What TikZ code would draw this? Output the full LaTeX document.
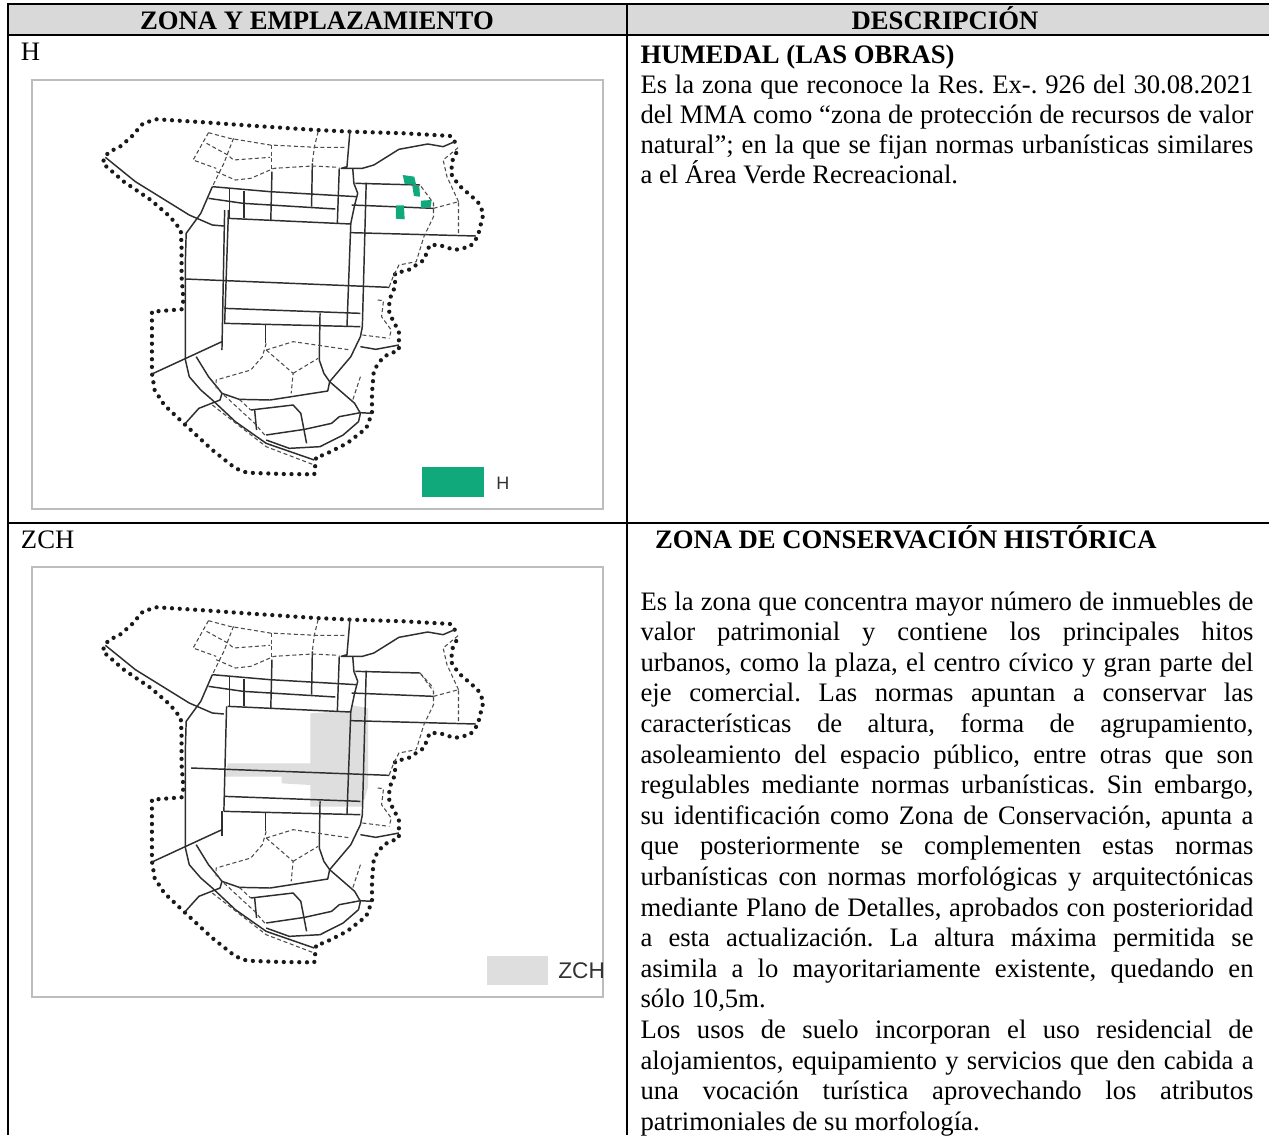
\documentclass[tikz,border=0pt]{standalone}
\usepackage{fontspec}
\setmainfont{Liberation Serif}
\newfontfamily\legendfont{Liberation Sans}
\definecolor{hdr}{HTML}{D9D9D9}
\definecolor{frm}{HTML}{BDBDBD}
\definecolor{grn}{HTML}{0FA97C}
\definecolor{zch}{HTML}{DEDEDE}
\definecolor{road}{HTML}{2E2E2E}
\newlength{\colW}\setlength{\colW}{459.75pt}
\frenchspacing
\tikzset{
  rule/.style={line width=1.5pt,black},
  mapframe/.style={draw=frm,line width=2pt},
  txt/.style={anchor=base west,inner sep=0pt,outer sep=0pt,font=\fontsize{20pt}{23pt}\selectfont\frenchspacing},
  boldtxt/.style={txt,font=\fontsize{20pt}{23pt}\selectfont\bfseries},
  headtxt/.style={anchor=base,inner sep=0pt,outer sep=0pt,font=\fontsize{20pt}{23pt}\selectfont\bfseries},
  roadline/.style={draw=road,line width=1.1pt,line join=round},
  lane/.style={draw=road!85,line width=0.8pt,dash pattern=on 3pt off 2pt},
  limit/.style={draw=black!90,line width=3.2pt,line cap=round,dash pattern=on 0pt off 5.8pt},
  maparea/.style={x=0.2885pt,y=-0.25pt},
}
\newcommand{\jl}[1]{\makebox[\colW][s]{#1}}
\newcommand{\zonemapcommon}{%
  % outer limit
  \draw[limit] (1130,245)--(1120,228)--(1000,220)--(860,215)--(770,210)--(600,197)--(480,187)--(385,180)--(355,178)--(320,190)--(290,230)--(258,262)--(232,275)--(220,292)--(215,310)--(270,365)--(340,420)--(390,470)--(418,510)--(420,560)--(420,650)--(425,720)--(420,748)--(343,755)--(343,850)--(343,940)--(350,990)--(375,1035)--(430,1095)--(500,1170)--(560,1225)--(590,1238)--(680,1242)--(765,1243)--(770,1190)--(790,1185)--(850,1150)--(900,1105)--(915,1060)--(915,1000)--(920,930)--(945,890)--(985,870)--(985,815)--(960,760)--(960,720)--(975,680)--(975,640)--(1010,630)--(1050,600)--(1065,555)--(1090,555)--(1130,570)--(1170,560)--(1190,530)--(1205,460)--(1190,425)--(1140,375)--(1120,340)--(1125,300)--(1140,265);
  % solid roads
  \draw[roadline] (222,292)--(300,365)--(440,465)--(500,495)--(530,498);
  \draw[roadline] (500,380)--(470,460)--(432,520)--(430,600)--(430,900)--(440,950)--(470,990)--(500,1020)--(560,1085)--(640,1150)--(765,1200);
  \draw[roadline] (500,380)--(650,395)--(875,410);
  \draw[roadline] (490,415)--(580,430)--(820,447);
  \draw[roadline] (862,435)--(1075,445);
  \draw[roadline] (860,518)--(1185,528);
  \draw[roadline] (545,385)--(545,475);
  \draw[roadline] (582,392)--(582,475);
  \draw[roadline] (655,335)--(652,480);
  \draw[roadline] (760,310)--(758,440);
  \draw[roadline] (830,325)--(825,490);
  \draw[roadline] (858,210)--(850,320)--(835,325)--(890,325)--(920,315)--(985,268)--(1060,252)--(1100,260)--(1130,245);
  \draw[roadline] (865,325)--(868,370)--(878,400)--(870,435)--(860,490)--(850,800);
  \draw[roadline] (900,368)--(890,800)--(885,830)--(860,890)--(805,965);
  \draw[roadline] (872,370)--(1040,375);
  \draw[roadline] (540,475)--(860,492);
  \draw[roadline] (530,745)--(885,760);
  \draw[roadline] (530,790)--(885,800);
  \draw[roadline] (780,760)--(778,900)--(790,940)--(805,965)--(870,1030)--(885,1060)--(880,1085)--(840,1125)--(780,1160)--(700,1165)--(640,1140);
  \draw[roadline] (638,795)--(638,850);
  \draw[roadline] (343,942)--(525,845);
  \draw[roadline] (458,890)--(490,950)--(515,985)--(525,1000);
  \draw[roadline] (525,1000)--(570,1018)--(650,1020)--(800,993)--(805,965);
  \draw[roadline] (430,1090)--(465,1045)--(520,1020)--(525,1000);
  \draw[roadline] (600,1050)--(710,1035)--(730,1060)--(745,1150);
  \draw[roadline] (610,1050)--(615,1110);
  \draw[roadline] (640,1125)--(740,1108)--(810,1090)--(830,1070)--(885,1058)--(915,1060);
  \draw[roadline] (885,860)--(925,868)--(985,855);
  % dashed lanes
  \draw[lane] (490,218)--(545,235)--(650,255)--(770,262)--(850,262);
  \draw[lane] (490,218)--(450,300)--(510,325);
  \draw[lane] (485,250)--(540,285)--(555,300)--(650,292);
  \draw[lane] (555,235)--(530,310)--(500,380);
  \draw[lane] (655,255)--(655,335);
  \draw[lane] (775,215)--(765,262)--(760,310);
  \draw[lane] (510,335)--(560,360)--(600,355)--(660,325)--(760,318)--(830,322);
  \draw[lane] (640,850)--(630,890)--(600,930)--(510,960)--(510,985);
  \draw[lane] (640,870)--(710,940)--(705,1000);
  \draw[lane] (640,870)--(710,845)--(860,870);
  \draw[lane] (710,940)--(775,895);
  \draw[lane] (885,950)--(865,1020);
  \draw[lane] (890,825)--(960,835);
  \draw[lane] (930,720)--(945,722)--(940,770)--(965,810)--(960,835);
  \draw[lane] (960,680)--(970,650)--(985,615)--(1030,605)--(1050,530)--(1075,470)--(1075,430)--(1040,375);
  \draw[lane] (1075,445)--(1140,425)--(1140,520);
  \draw[lane] (1140,425)--(1110,350)--(1100,300)--(1140,262);
  \draw[lane] (530,1005)--(610,1090)--(640,1130);
  \draw[lane] (500,1035)--(640,1160)--(765,1215);
  \draw[lane] (570,1018)--(600,1050);
}
\begin{document}
\begin{tikzpicture}[x=0.75pt,y=-0.75pt]
\useasboundingbox (0,0) rectangle (1269,1135);
\fill[white] (0,0) rectangle (1269,1135);
% header band
\fill[hdr] (8,4) rectangle (1269,35);
% table rules
\draw[rule] (1269,4)--(8,4)--(8,1135);
\draw[rule] (8,35)--(1269,35);
\draw[rule] (8,523)--(1269,523);
\draw[rule] (627,4)--(627,1135);
% header
\node[headtxt] (hleft) at (317,29) {ZONA Y EMPLAZAMIENTO};
\node[headtxt] (hright) at (945,29) {DESCRIPCIÓN};
% row labels
\node[txt] (rowH) at (21,60) {H};
\node[txt] (rowZ) at (21,548) {ZCH};
% frames
\draw[mapframe] (32,80) rectangle (603,509);
\draw[mapframe] (32,567) rectangle (603,997);
% map H
\begin{scope}[shift={(15pt,-45pt)},maparea]
  \zonemapcommon
  \draw[roadline] (532,450)--(525,870);
  \draw[roadline] (542,450)--(532,790);
  \draw[roadline] (430,657)--(960,682);
  \fill[grn] (995,345)--(1025,350)--(1030,375)--(1000,372)--cycle;
  \fill[grn] (1020,378)--(1038,378)--(1040,410)--(1024,408)--cycle;
  \fill[grn] (1042,422)--(1070,420)--(1068,440)--(1042,445)--cycle;
  \fill[grn] (977,436)--(998,436)--(1000,478)--(977,476)--cycle;
  \fill[grn] (1045,1220) rectangle (1205,1310);
  \node[anchor=base,inner sep=0pt,font=\legendfont\fontsize{13.5pt}{16pt}\selectfont,text=black!80] (legH) at (1255,1287) {H};
\end{scope}
% map ZCH
\begin{scope}[shift={(15pt,-411pt)},maparea]
  \fill[zch] (755,496)--(860,488)--(860,471)--(905,481)--(905,716)--(890,776)--(755,776)--(755,711)--(680,706)--(680,686)--(535,686)--(540,646)--(755,646)--cycle;
  \zonemapcommon
  \draw[roadline] (537,475)--(530,790);
  \draw[roadline] (525,790)--(525,865);
  \draw[roadline] (445,660)--(960,682);
  \draw[lane] (1040,375)--(1075,420);
  \fill[zch] (1215,1224) rectangle (1372,1311);
  \node[anchor=base,inner sep=0pt,font=\legendfont\fontsize{17pt}{20pt}\selectfont,text=black!80] (legZ) at (1460,1292) {ZCH};
\end{scope}
% H description
\node[boldtxt] (t0) at (640.5,63) {HUMEDAL (LAS OBRAS)};
\node[txt] (t1) at (640.5,93) {\jl{Es la zona que reconoce la Res. Ex-. 926 del 30.08.2021}};
\node[txt] (t2) at (640.5,123) {\jl{del MMA como “zona de protección de recursos de valor}};
\node[txt] (t3) at (640.5,153.5) {\jl{natural”; en la que se fijan normas urbanísticas similares}};
\node[txt] (t4) at (640.5,183.5) {a el Área Verde Recreacional.};
% ZCH description
\node[boldtxt] (z0) at (655,548) {ZONA DE CONSERVACIÓN HISTÓRICA};
\node[txt] (z1) at (640.5,610) {\jl{Es la zona que concentra mayor número de inmuebles de}};
\node[txt] (z2) at (640.5,640.6) {\jl{valor patrimonial y contiene los principales hitos}};
\node[txt] (z3) at (640.5,671.2) {\jl{urbanos, como la plaza, el centro cívico y gran parte del}};
\node[txt] (z4) at (640.5,701.8) {\jl{eje comercial. Las normas apuntan a conservar las}};
\node[txt] (z5) at (640.5,732.4) {\jl{características de altura, forma de agrupamiento,}};
\node[txt] (z6) at (640.5,763) {\jl{asoleamiento del espacio público, entre otras que son}};
\node[txt] (z7) at (640.5,793.6) {\jl{regulables mediante normas urbanísticas. Sin embargo,}};
\node[txt] (z8) at (640.5,824.2) {\jl{su identificación como Zona de Conservación, apunta a}};
\node[txt] (z9) at (640.5,854.8) {\jl{que posteriormente se complementen estas normas}};
\node[txt] (z10) at (640.5,885.4) {\jl{urbanísticas con normas morfológicas y arquitectónicas}};
\node[txt] (z11) at (640.5,916) {\jl{mediante Plano de Detalles, aprobados con posterioridad}};
\node[txt] (z12) at (640.5,946.6) {\jl{a esta actualización. La altura máxima permitida se}};
\node[txt] (z13) at (640.5,977.2) {\jl{asimila a lo mayoritariamente existente, quedando en}};
\node[txt] (z14) at (640.5,1007.8) {sólo 10,5m.};
\node[txt] (z15) at (640.5,1038.4) {\jl{Los usos de suelo incorporan el uso residencial de}};
\node[txt] (z16) at (640.5,1069) {\jl{alojamientos, equipamiento y servicios que den cabida a}};
\node[txt] (z17) at (640.5,1099.6) {\jl{una vocación turística aprovechando los atributos}};
\node[txt] (z18) at (640.5,1130.2) {patrimoniales de su morfología.};
\end{tikzpicture}
\end{document}
